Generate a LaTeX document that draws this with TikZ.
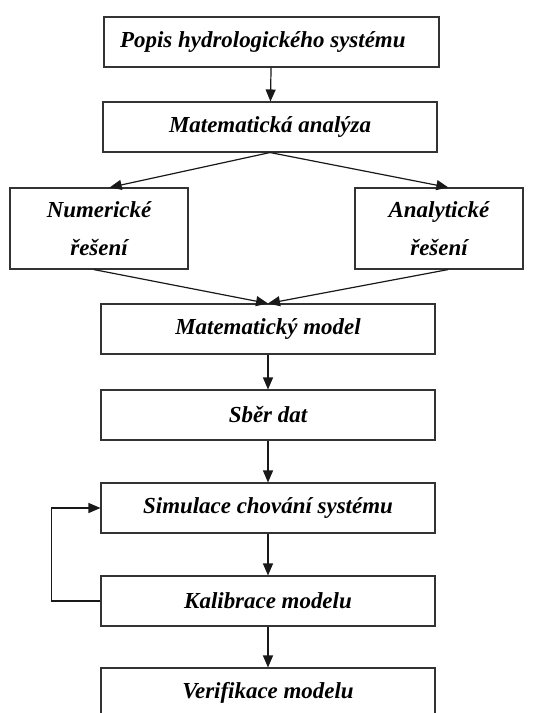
\documentclass[tikz,border=0pt]{standalone}
\usepackage{fontspec}
\setmainfont{Liberation Serif}
\usetikzlibrary{arrows.meta}
\begin{document}
\begin{tikzpicture}[x=0.75pt, y=-0.75pt,
        stage/.style={draw=black!80, line width=0.8pt, minimum width=250.5pt, minimum height=37.5pt, inner sep=0pt, font=\fontsize{17.2}{20}\selectfont\bfseries\itshape},
        branch/.style={stage, minimum height=60.75pt, align=center, font=\fontsize{17.2}{28.5}\selectfont\bfseries\itshape},
        flow/.style={draw=black!90, line width=0.9pt, -{Triangle[length=9pt,width=7.5pt]}}]
        \useasboundingbox (0,0) rectangle (544,713);
        
        \node[stage, minimum width=251.25pt] (popis) at (271.5,42) {Popis hydrologického systému\hspace*{13pt}};
        \node[stage] (analyza) at (270,127) {Matematická analýza};
        \node[branch, minimum width=133.5pt] (numer) at (99,228.5) {Numerické\\řešení};
        \node[branch, minimum width=126pt] (analyt) at (439,228.5) {Analytické\\řešení};
        \node[stage] (model) at (268,329) {Matematický model};
        \node[stage] (data) at (268,415) {Sběr dat};
        \node[stage] (simul) at (268,508) {Simulace chování systému};
        \node[stage] (kalib) at (268,601) {Kalibrace modelu};
        \node[stage] (verif) at (268,693) {Verifikace modelu};
        
        \draw[flow] (popis) -- (analyza);
        \draw[flow] (analyza.south) -- ([xshift=8pt]numer.north);
        \draw[flow] (analyza.south) -- ([xshift=7pt]analyt.north);
        \draw[flow] ([xshift=-4pt]numer.south) -- (model.north);
        \draw[flow] ([xshift=7pt]analyt.south) -- (model.north);
        \draw[flow] (model) -- (data);
        \draw[flow] (data) -- (simul);
        \draw[flow] (simul) -- (kalib);
        \draw[flow] (kalib) -- (verif);
        \draw[flow] (kalib.west) -- ++(-49,0) |- (simul.west);
    \end{tikzpicture}
\end{document}
